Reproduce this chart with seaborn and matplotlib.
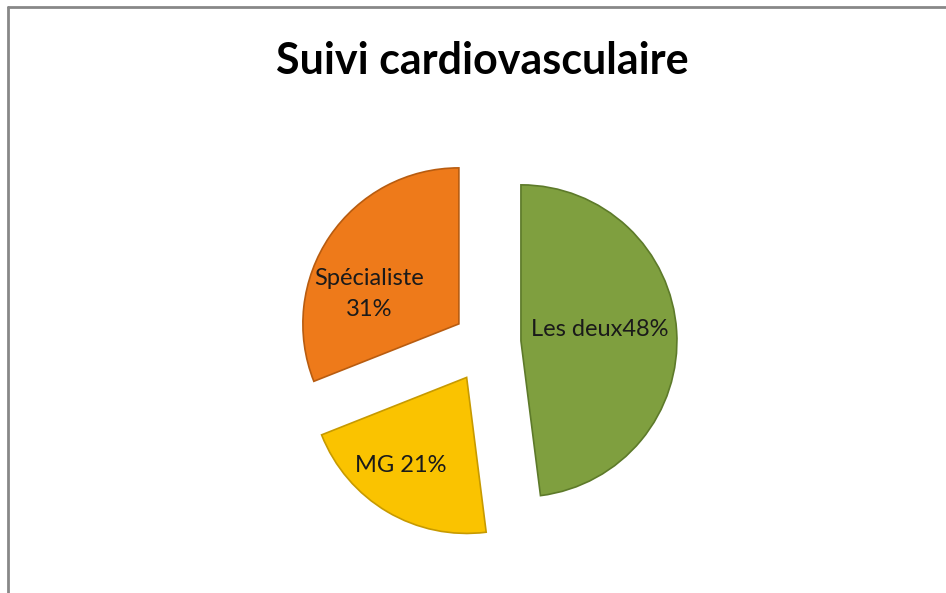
import numpy as np
import seaborn as sns
import matplotlib.pyplot as plt
from matplotlib.lines import Line2D

# Data
categories = ['Les deux', 'MG', 'Spécialiste']
shares = [48, 21, 31]
slice_labels = ['Les deux48%', 'MG 21%', 'Spécialiste\n31%']
colors = ['#7f9f3f', '#fac300', '#ee7a1a']
edges = ['#5d7a2a', '#c79a00', '#b85c10']

sns.set_theme(style='white')
plt.rcParams['font.family'] = ['Lato', 'DejaVu Sans']

W, H = 946, 593
fig = plt.figure(figsize=(W / 100, H / 100), dpi=100)
ax = fig.add_axes([0, 0, 1, 1])

# frame (only top and left visible in the crop)
ax.add_line(Line2D([8, 8], [0, H - 7], color='#888888', lw=2))
ax.add_line(Line2D([8, W], [H - 7, H - 7], color='#888888', lw=2))

# explode is in data (pixel) units here since the axes span the figure
wedges, texts = ax.pie(
    shares,
    colors=colors,
    startangle=90,
    counterclock=False,
    explode=[34, 40, 34],
    center=(487, H - 343),
    radius=156,
    labels=slice_labels,
    labeldistance=0.55,
    frame=True,
    wedgeprops=dict(linewidth=1.2),
    textprops=dict(fontsize=17, color='#1a1a1a', ha='center', va='center',
                   linespacing=1.6),
)
for w, ec in zip(wedges, edges):
    w.set_edgecolor(ec)

# small tweaks of label positions
offsets = [(-7, 6), (-22, -14), (-19, -18)]
for t, (dx, dy) in zip(texts, offsets):
    x, y = t.get_position()
    t.set_position((x + dx, y + dy))
    t.set_ha('center')
    t.set_multialignment('center')

ax.set_xlim(0, W)
ax.set_ylim(0, H)
ax.set_aspect('equal')
ax.axis('off')

fig.text(482 / W, 1 - 61 / H, 'Suivi cardiovasculaire', ha='center', va='center',
         fontsize=31, fontweight='bold', color='black')

fig.savefig('out.png', dpi=100)
